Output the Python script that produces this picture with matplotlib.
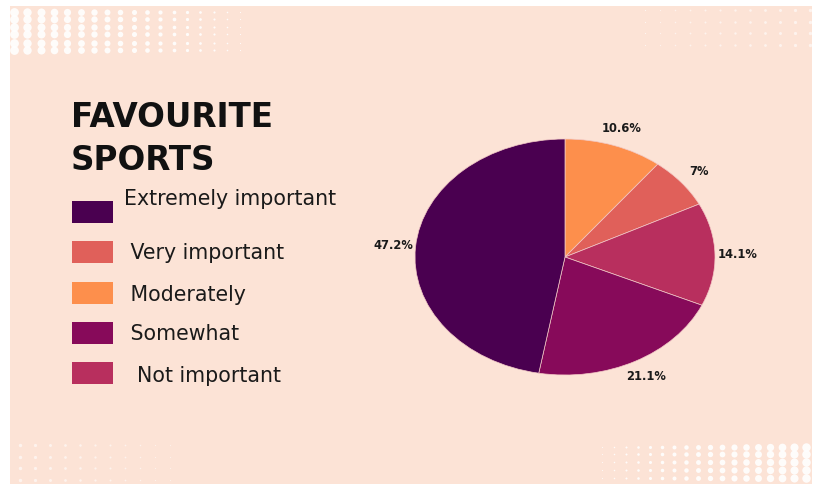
import matplotlib
matplotlib.use("Agg")
import matplotlib.pyplot as plt
from matplotlib.patches import Rectangle
import numpy as np

# ---- data ----
title = "FAVOURITE\nSPORTS"
legend_labels = ["Extremely important", " Very important", " Moderately", " Somewhat", "  Not important"]
legend_colors = ["#4A0050", "#E0605A", "#FD8F4C", "#870A5A", "#B82F5E"]

pie_categories = ["Moderately", "Very important", "Not important", "Somewhat", "Extremely important"]
pie_values = [10.6, 7.0, 14.1, 21.1, 47.2]
pie_colors = ["#FD8F4C", "#E0605A", "#B82F5E", "#870A5A", "#4A0050"]

BG = "#FCE3D6"
W, H = 814, 486

fig = plt.figure(figsize=(W / 100, H / 100), dpi=100)
fig.patch.set_facecolor("white")

# background / decoration axes in pixel coordinates
bg = fig.add_axes([0, 0, 1, 1], zorder=0)
bg.set_xlim(0, W)
bg.set_ylim(H, 0)
bg.axis("off")
bg.add_patch(Rectangle((10, 6), 802, 478, facecolor=BG, edgecolor="none"))

# halftone dots (decoration)
def dots(x0, x1, ys, step, grow_right, smax, alpha=0.9):
    xs = np.arange(x0, x1, step)
    for y in ys:
        for x in xs:
            t = (x - x0) / (x1 - x0)
            f = t if grow_right else 1 - t
            s = smax * f ** 1.6
            if s > 0.3:
                bg.scatter(x, y, s=s, color="white", alpha=alpha, lw=0)

dots(14, 255, [12, 19, 27, 34, 43, 50], 13.3, False, 40)
dots(590, 816, [447, 454, 462, 470, 478], 12, True, 40)
# faint scattered dots
dots(600, 814, [10, 22, 33, 45], 15, True, 6, alpha=0.6)
dots(20, 200, [445, 457, 468, 480], 15, False, 6, alpha=0.6)

# title
fig.text(71 / W, 1 - 101 / H, title, fontsize=23.5, fontweight="bold",
         color="#111111", va="top", ha="left", linespacing=1.38,
         family="DejaVu Sans")

# legend
sq_y = [212, 252, 293, 333, 373]
txt_y = [199, 253, 295, 334, 376]
for lab, col, yc, ty in zip(legend_labels, legend_colors, sq_y, txt_y):
    bg.add_patch(Rectangle((72, yc - 11), 41, 22, facecolor=col, edgecolor="none"))
    bg.text(124, ty, lab, fontsize=14.8, color="#1a1a1a", va="center", ha="left",
            family="DejaVu Sans")

# pie (elliptical)
cx, cy, rx, ry = 565, 257, 150, 118
ax = fig.add_axes([(cx - rx) / W, 1 - (cy + ry) / H, 2 * rx / W, 2 * ry / H], zorder=2)
ax.pie(pie_values, colors=pie_colors, startangle=90, counterclock=False,
       radius=1, autopct=lambda p: f"{round(p, 1):g}%", pctdistance=1.15,
       wedgeprops=dict(edgecolor="#F3C9C6", linewidth=0.5),
       textprops=dict(fontsize=8.3, fontweight="bold", color="#1a1a1a"))
ax.set_aspect("auto")
ax.set_xlim(-1, 1)
ax.set_ylim(-1, 1)
ax.axis("off")
ax.patch.set_alpha(0)

fig.savefig("out.png", dpi=100, facecolor=fig.get_facecolor())
